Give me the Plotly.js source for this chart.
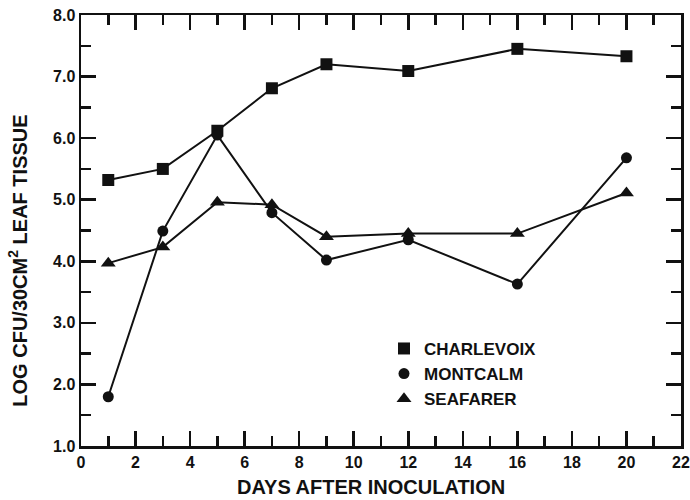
<!DOCTYPE html>
<html>
<head>
<meta charset="utf-8">
<script src="https://cdn.plot.ly/plotly-3.0.1.min.js"></script>
<style>html,body{margin:0;padding:0;background:#fff;}#chart{width:690px;height:500px;}</style>
</head>
<body>
<div id="chart"></div>
<script>
const days = [1, 3, 5, 7, 9, 12, 16, 20];
const charlevoix = [5.32, 5.50, 6.12, 6.81, 7.20, 7.09, 7.45, 7.33];
const montcalm = [1.80, 4.49, 6.05, 4.79, 4.02, 4.35, 3.63, 5.68];
const seafarer = [3.97, 4.23, 4.96, 4.92, 4.40, 4.45, 4.45, 5.11];
const seriesNames = ['CHARLEVOIX', 'MONTCALM', 'SEAFARER'];
const xTickLabels = ['0','2','4','6','8','10','12','14','16','18','20','22'];
const yTickLabels = ['1.0','2.0','3.0','4.0','5.0','6.0','7.0','8.0'];

const FONT = 'Liberation Sans, Arial, Helvetica, sans-serif';
const symbols = ['square', 'circle', 'triangle-up'];
const sizes = [12, 11, 13];
const ys = [charlevoix, montcalm, seafarer];

const traces = [];
ys.forEach((y, i) => {
  traces.push({
    x: days, y: y, type: 'scatter', mode: 'lines+markers',
    name: seriesNames[i], showlegend: false,
    line: {color: '#111', width: 2},
    marker: {symbol: symbols[i], size: sizes[i], color: '#111'}
  });
});
ys.forEach((y, i) => {
  traces.push({
    x: [null], y: [null], type: 'scatter', mode: 'markers',
    name: seriesNames[i], showlegend: true,
    marker: {symbol: symbols[i], size: sizes[i], color: '#111'}
  });
});

const xVals = xTickLabels.map(Number);
const yVals = yTickLabels.map(Number);

const layout = {
  width: 690, height: 500,
  margin: {l: 81, r: 9, t: 15, b: 54},
  paper_bgcolor: '#fff', plot_bgcolor: '#fff',
  font: {family: FONT, color: '#111', size: 16},
  showlegend: true,
  legend: {
    x: 0.505, y: 0.267, xanchor: 'left', yanchor: 'top',
    bgcolor: 'rgba(0,0,0,0)',
    font: {family: FONT, size: 17, color: '#111', weight: 'bold'},
    itemwidth: 30
  },
  xaxis: {
    range: [0, 22], tickmode: 'array', tickvals: xVals, ticktext: xTickLabels,
    ticks: 'inside', ticklen: 15, tickwidth: 2.5, tickcolor: '#111',
    showline: true, linewidth: 2.5, linecolor: '#111', mirror: 'ticks',
    showgrid: false, zeroline: false,
    tickfont: {family: FONT, size: 16, color: '#111', weight: 'bold'},
    minor: {dtick: 1, ticks: 'inside', ticklen: 10, tickwidth: 2.5, tickcolor: '#111', showgrid: false}
  },
  yaxis: {
    range: [1, 8], tickmode: 'array', tickvals: yVals, ticktext: yTickLabels,
    ticks: 'inside', ticklen: 15, tickwidth: 2.5, tickcolor: '#111',
    showline: true, linewidth: 2.5, linecolor: '#111', mirror: 'ticks',
    showgrid: false, zeroline: false,
    tickfont: {family: FONT, size: 16, color: '#111', weight: 'bold'},
    minor: {dtick: 0.5, ticks: 'inside', ticklen: 10, tickwidth: 2.5, tickcolor: '#111', showgrid: false}
  },
  annotations: [{
    text: 'LOG CFU/30CM<sup>2</sup> LEAF TISSUE',
    xref: 'paper', yref: 'paper', x: -0.105, y: 0.43,
    xanchor: 'center', yanchor: 'middle', textangle: -90, showarrow: false,
    font: {family: FONT, size: 20, color: '#111', weight: 'bold'}
  }, {
    text: 'DAYS AFTER INOCULATION',
    xref: 'paper', yref: 'paper', x: 0.483, y: -0.095,
    xanchor: 'center', yanchor: 'middle', showarrow: false,
    font: {family: FONT, size: 20, color: '#111', weight: 'bold'}
  }]
};

Plotly.newPlot('chart', traces, layout, {displayModeBar: false, staticPlot: true});
</script>
</body>
</html>
